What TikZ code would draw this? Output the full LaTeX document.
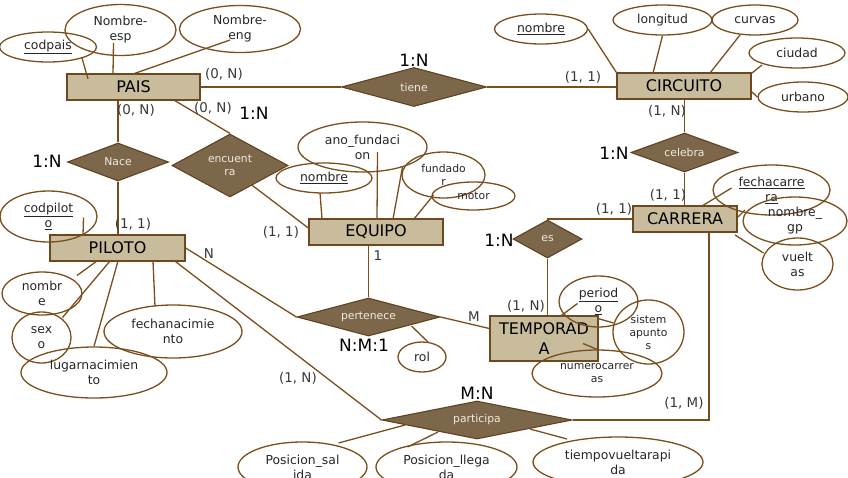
\documentclass[tikz,border=0pt]{standalone}
\usepackage{fontspec}
\setmainfont{DejaVu Sans}
\usetikzlibrary{shapes.geometric,calc}
\definecolor{lin}{RGB}{122,78,28}
\definecolor{entfill}{RGB}{200,188,156}
\definecolor{entdraw}{RGB}{110,72,30}
\definecolor{relfill}{RGB}{125,103,75}
\definecolor{reldraw}{RGB}{98,66,30}
\definecolor{reltext}{RGB}{240,234,222}
\definecolor{lbl}{RGB}{55,55,55}
\begin{document}
\begin{tikzpicture}[x=1pt,y=-1pt,
 entity/.style={draw=entdraw, fill=entfill, line width=1.4pt, inner sep=0pt, minimum height=26pt, font=\fontsize{16}{20}\selectfont, align=center},
 rel/.style={diamond, draw=reldraw, fill=relfill, line width=1.1pt, inner sep=0pt, text=reltext, font=\fontsize{10.8}{13}\selectfont, align=center},
 attr/.style={ellipse, draw=lin, line width=1.3pt, inner sep=0pt, font=\fontsize{12.4}{15}\selectfont, align=center, text=black!85},
 smallattr/.style={attr, font=\fontsize{10.8}{13}\selectfont},
 card/.style={font=\fontsize{13.4}{15}\selectfont, text=lbl, inner sep=0pt},
 ratio/.style={font=\fontsize{17}{18}\selectfont, text=black, inner sep=0pt},
 conn/.style={draw=lin, line width=1.3pt}]

\useasboundingbox (0,0) rectangle (848,477);

% entities
\node[entity, minimum width=133pt] (pais) at (133.5,87) {PAIS};
\node[entity, minimum width=134pt] (circuito) at (684,86) {CIRCUITO};
\node[entity, minimum width=135pt] (piloto) at (117.5,248) {PILOTO};
\node[entity, minimum width=134pt] (equipo) at (376,232) {EQUIPO};
\node[entity, minimum width=104pt] (carrera) at (685,219) {CARRERA};
\node[entity, minimum width=108pt, minimum height=45pt] (temporada) at (544,338.5) {TEMPORAD\\A};

% relationships
\node[rel, minimum width=145pt, minimum height=39pt, aspect=3.7] (tiene) at (414,87) {tiene};
\node[rel, minimum width=101pt, minimum height=38pt, aspect=2.7] (nace) at (118,162) {Nace};
\node[rel, minimum width=116pt, minimum height=63pt, aspect=1.85] (encuentra) at (230,165.5) {encuent\\ra};
\node[rel, minimum width=107pt, minimum height=39pt, aspect=2.7] (celebra) at (684.5,152.5) {celebra};
\node[rel, minimum width=69pt, minimum height=38pt, aspect=1.8] (es) at (547.5,239) {es};
\node[rel, minimum width=143pt, minimum height=38pt, aspect=3.7] (pertenece) at (368.5,317) {pertenece};
\node[rel, minimum width=190pt, minimum height=38pt, aspect=5] (participa) at (477,420) {participa};

% attributes
\node[attr, minimum width=97pt, minimum height=30pt] (codpais) at (48,47) {\underline{codpais}};
\node[attr, minimum width=111pt, minimum height=51pt] (nombreesp) at (120.5,30) {Nombre-\\esp};
\node[attr, minimum width=121pt, minimum height=47pt] (nombreeng) at (240,29) {Nombre-\\eng};
\node[attr, minimum width=93pt, minimum height=30pt] (cnombre) at (541,29) {\underline{nombre}};
\node[attr, minimum width=99pt, minimum height=30pt] (longitud) at (662.5,20) {longitud};
\node[attr, minimum width=86pt, minimum height=30pt] (curvas) at (755,20) {curvas};
\node[attr, minimum width=96pt, minimum height=30pt] (ciudad) at (797,53) {ciudad};
\node[attr, minimum width=90pt, minimum height=30pt] (urbano) at (803,97) {urbano};
\node[attr, minimum width=97pt, minimum height=51pt] (codpiloto) at (48.5,216.5) {\underline{codpilot}\\\underline{o}};
\node[attr, minimum width=129pt, minimum height=50pt] (ano) at (362.5,147) {ano\_fundaci\\on};
\node[attr, minimum width=96pt, minimum height=30pt] (enombre) at (324,178) {\underline{nombre}};
\node[smallattr, minimum width=83pt, minimum height=46pt] (fundador) at (443.5,175) {fundado\\r};
\node[smallattr, minimum width=83pt, minimum height=28pt] (motor) at (473.5,196) {motor};
\node[attr, minimum width=117pt, minimum height=50pt] (fechacarrera) at (771.5,190) {\underline{fechacarre}\\\underline{ra}};
\node[attr, minimum width=104pt, minimum height=48pt] (nombregp) at (795,221) {nombre\_\\gp};
\node[attr, minimum width=71pt, minimum height=52pt] (vueltas) at (797.5,264) {vuelt\\as};
\node[attr, minimum width=80pt, minimum height=43pt] (pnombre) at (42,293.5) {nombr\\e};
\node[attr, minimum width=59pt, minimum height=51pt] (sexo) at (41.5,337.5) {sex\\o};
\node[attr, minimum width=138pt, minimum height=53pt] (fechanac) at (173,331.5) {fechanacimie\\nto};
\node[attr, minimum width=146pt, minimum height=51pt] (lugar) at (94,372.5) {lugarnacimien\\to};
\node[attr, minimum width=79pt, minimum height=51pt] (periodo) at (598.5,301.5) {\underline{period}\\\underline{o}};
\node[smallattr, minimum width=71pt, minimum height=64pt] (sistema) at (648.5,332) {sistem\\apunto\\s};
\node[smallattr, minimum width=130pt, minimum height=47pt] (numcarr) at (597,373.5) {numerocarrer\\as};
\node[attr, minimum width=48pt, minimum height=30pt] (rol) at (422,357) {rol};
\node[attr, minimum width=129pt, minimum height=50pt] (psalida) at (302.5,467) {Posicion\_sal\\ida};
\node[attr, minimum width=141pt, minimum height=50pt] (pllegada) at (446.5,467) {Posicion\_llega\\da};
\node[attr, minimum width=170pt, minimum height=50pt] (tiempo) at (618,462) {tiempovueltarapi\\da};

% relationship connectors
\draw[conn] (pais.east) -- (tiene.west);
\draw[conn] (tiene.east) -- (tiene.east -| circuito.west);
\draw[conn] (nace.north) -- (nace.north |- pais.south);
\draw[conn] (nace.south) -- (nace.south |- piloto.north);
\draw[conn] ($(pais.south)+(41.5,0)$) -- (encuentra.north);
\draw[conn] ($(encuentra.south)!0.38!(encuentra.east)$) -- ($(equipo.west)+(0,-4)$);
\draw[conn] (celebra.north) -- (celebra.north |- circuito.south);
\draw[conn] (celebra.south) -- (celebra.south |- carrera.north);
\draw[conn] (carrera.west) -| (es.north);
\draw[conn] (es.south) -- (es.south |- temporada.north);
\draw[conn] (pertenece.north) -- (pertenece.north |- equipo.south);
\draw[conn] (pertenece.east) -- ($(temporada.west)+(0,-10)$);
\draw[conn] (piloto.east) -- (pertenece.west);
\draw[conn] ($(piloto.south east)+(-10,0)$) -- (participa.west);
\draw[conn] (participa.east) -| ($(carrera.south)+(24,0)$);

% attribute connectors
\draw[conn] ($(codpais)+(34,11)$) -- ($(pais)+(-45.5,-8)$);
\draw[conn] ($(nombreesp)+(-7,13)$) -- ($(pais)+(-20.5,-13)$);
\draw[conn] ($(nombreeng)+(-10,11)$) -- ($(pais)+(-0.5,-13)$);
\draw[conn] (cnombre.east) -- (circuito.north west);
\draw[conn] (longitud.south) -- ($(circuito)+(-31,-13)$);
\draw[conn] ($(curvas)+(-15,15)$) -- ($(circuito)+(26,-13)$);
\draw[conn] ($(ciudad)+(-35,12)$) -- ($(circuito)+(68,-13)$);
\draw[conn] (urbano.west) -- ($(circuito)+(68,6)$);
\draw[conn] ($(codpiloto)+(35,1)$) -- ($(piloto)+(-34.5,-13)$);
\draw[conn] ($(pnombre)+(35,-18)$) -- ($(piloto)+(-20.5,13)$);
\draw[conn] ($(sexo)+(21,-20)$) -- ($(piloto)+(-7.5,13)$);
\draw[conn] (lugar.north) -- ($(piloto)+(0.5,13)$);
\draw[conn] ($(fechanac)+(-18,-25)$) -- ($(piloto)+(35.5,13)$);
\draw[conn] ($(enombre)+(-4,15)$) -- ($(equipo)+(-54,-13)$);
\draw[conn] ($(ano)+(15,5)$) -- ($(equipo)+(1,-13)$);
\draw[conn] ($(fundador)+(-41,-8)$) -- ($(equipo)+(17,-13)$);
\draw[conn] ($(motor)+(-40,-1)$) -- ($(equipo)+(38,-13)$);
\draw[conn] ($(fechacarrera)+(-40,-2)$) -- ($(carrera)+(17,-13)$);
\draw[conn] ($(nombregp)+(-50,-11)$) -- ($(carrera)+(53,-2)$);
\draw[conn] ($(vueltas)+(-34,-11)$) -- ($(carrera)+(50,16)$);
\draw[conn] ($(periodo)+(-21,2)$) -- ($(temporada)+(16,-22)$);
\draw[conn] ($(sistema)+(-35,-9)$) -- ($(temporada)+(54,-20)$);
\draw[conn] (numcarr.north) -- ($(temporada)+(39,5)$);
\draw[conn] ($(rol)+(6,-15)$) -- ($(pertenece)+(43,9)$);
\draw[conn] ($(psalida)+(36,-24)$) -- ($(participa)+(-72,5)$);
\draw[conn] ($(pllegada)+(-39,-20)$) -- ($(participa)+(-39,12)$);
\draw[conn] ($(tiempo)+(-51,-23)$) -- ($(participa)+(53,9)$);

% cardinality labels
\node[card] (c1) at (224,74) {(0, N)};
\node[card] (c2) at (583,77) {(1, 1)};
\node[card] (c3) at (136,110) {(0, N)};
\node[card] (c4) at (213,108) {(0, N)};
\node[card] (c5) at (133,224) {(1, 1)};
\node[card] (c6) at (281,232) {(1, 1)};
\node[card] (c7) at (209,254) {N};
\node[card] (c8) at (378,256) {1};
\node[card] (c9) at (474,317) {M};
\node[card] (c10) at (298,378) {(1, N)};
\node[card] (c11) at (526,306) {(1, N)};
\node[card] (c12) at (614,209) {(1, 1)};
\node[card] (c13) at (668,195) {(1, 1)};
\node[card] (c14) at (667,111) {(1, N)};
\node[card] (c15) at (684,403) {(1, M)};

\node[ratio] (r1) at (414,60) {1:N};
\node[ratio] (r2) at (254,113) {1:N};
\node[ratio] (r3) at (47,161) {1:N};
\node[ratio] (r4) at (614,153) {1:N};
\node[ratio] (r5) at (499,240) {1:N};
\node[ratio] (r6) at (364,345) {N:M:1};
\node[ratio] (r7) at (477,393) {M:N};
\end{tikzpicture}
\end{document}
